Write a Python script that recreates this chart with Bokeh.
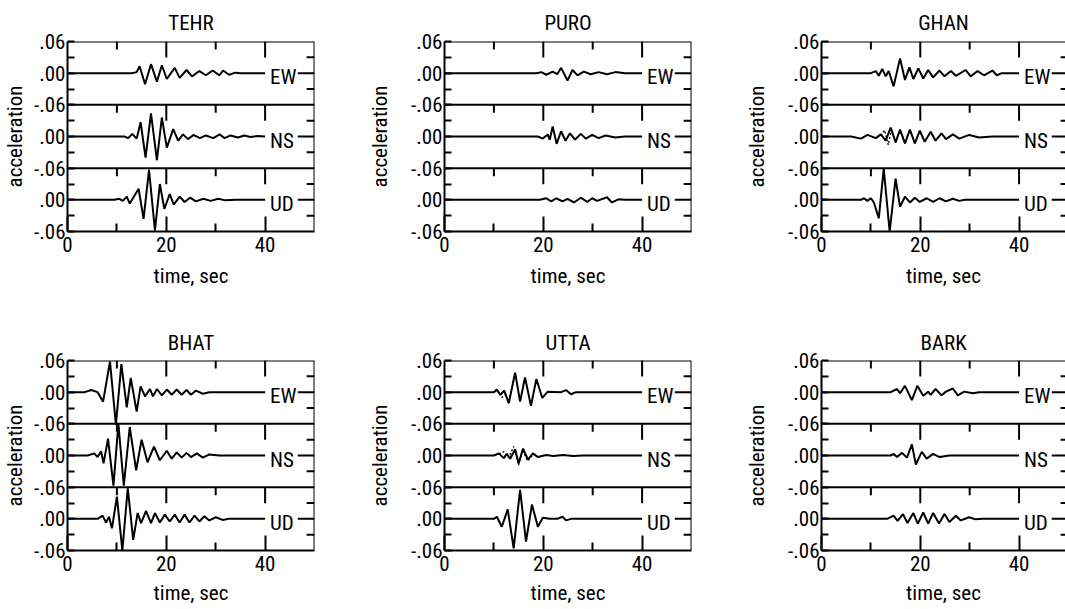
from bokeh.plotting import figure
from bokeh.layouts import column, row
from bokeh.models import Range1d, FixedTicker, Span
from bokeh.core.properties import value
from bokeh.embed import file_html
from bokeh.resources import INLINE

FONT = "'Roboto Condensed', 'DejaVu Sans Condensed', 'Liberation Sans Narrow', 'Liberation Sans', sans-serif"
FONT_SIZE = "21px"

STATIONS = ["TEHR", "PURO", "GHAN", "BHAT", "UTTA", "BARK"]
COMPONENTS = ["EW", "NS", "UD"]

# time axis (s) and tick values
X_TICKS = [0, 20, 40]
X_MINOR = [10, 30]
X_MAX = 50

# stacked acceleration axis: each component gets a +/-0.06 band
BAND_OFFSET = {"EW": 0.24, "NS": 0.12, "UD": 0.0}
Y_TICKS = [-0.06, 0.0, 0.06, 0.12, 0.18, 0.24, 0.30]
Y_TICK_LABELS = ["-.06", ".00", "-.06", ".00", "-.06", ".00", ".06"]
Y_MINOR = [-0.03, 0.03, 0.09, 0.15, 0.21, 0.27]
BAND_EDGES = [0.30, 0.18, 0.06]

# ---- recorded accelerograms: times (s) of turning points and amplitudes ----
TEHR_EW_T = [0, 13.0, 14.0, 14.6, 15.7, 16.9, 18.1, 19.1, 20.1, 21.7, 22.7, 24.1, 25.2, 26.7, 28.0, 29.4, 30.7, 31.5, 32.7, 34.0, 35.0, 40]
TEHR_EW_A = [0, 0, 0.002, 0.013, -0.021, 0.017, -0.016, 0.015, -0.011, 0.010, -0.009, 0.006, -0.006, 0.004, -0.004, 0.005, -0.004, 0.005, -0.003, 0.001, 0, 0]
TEHR_NS_T = [0, 11.5, 12.3, 13.1, 14.0, 14.8, 15.8, 16.9, 18.1, 19.1, 20.1, 21.4, 22.4, 23.4, 24.4, 25.5, 26.8, 28.0, 29.5, 30.8, 31.8, 33.0, 34.5, 35.8, 37.0, 38.5, 40]
TEHR_NS_A = [0, 0, -0.003, 0.005, -0.004, 0.027, -0.040, 0.044, -0.045, 0.036, -0.021, 0.014, -0.008, 0.004, -0.005, 0.003, -0.003, 0.002, -0.003, 0.004, -0.003, 0.002, -0.002, 0.002, -0.001, 0.001, 0]
TEHR_UD_T = [0, 9.5, 10.5, 11.2, 12.0, 12.6, 13.3, 14.4, 15.4, 16.5, 17.7, 18.7, 19.6, 20.7, 21.5, 22.7, 23.7, 24.8, 26.0, 27.5, 29.0, 30.5, 32.0, 34.0, 40]
TEHR_UD_A = [0, 0, 0.002, -0.002, 0.006, -0.007, 0.004, 0.021, -0.036, 0.057, -0.058, 0.030, -0.017, 0.011, -0.009, 0.006, -0.004, 0.004, -0.003, 0.002, -0.002, 0.002, -0.001, 0, 0]

PURO_EW_T = [0, 18.6, 19.6, 20.6, 21.9, 22.8, 23.6, 24.9, 25.9, 26.9, 28.2, 29.6, 31.2, 32.9, 34.6, 36.5, 40]
PURO_EW_A = [0, 0, 0.002, -0.003, 0.003, -0.002, 0.010, -0.014, 0.006, -0.004, 0.003, -0.002, 0.002, -0.002, 0.002, 0, 0]
PURO_NS_T = [0, 18.9, 19.9, 20.9, 21.3, 21.9, 22.7, 23.6, 24.5, 25.4, 26.4, 27.6, 28.6, 29.9, 31.2, 32.6, 34.6, 36.5, 40]
PURO_NS_A = [0, 0, -0.004, 0.004, -0.006, 0.019, -0.014, 0.010, -0.008, 0.006, -0.006, 0.005, -0.004, 0.003, -0.003, 0.002, -0.002, 0, 0]
PURO_UD_T = [0, 19.3, 20.6, 21.6, 22.6, 23.9, 24.9, 26.2, 27.6, 28.9, 29.9, 30.9, 32.9, 33.9, 35.2, 36.5, 40]
PURO_UD_A = [0, 0, 0.003, -0.003, 0.003, -0.003, 0.002, -0.005, 0.004, -0.004, 0.003, -0.002, 0.005, -0.005, 0.001, 0, 0]

GHAN_EW_T = [0, 10.0, 11.0, 11.6, 12.3, 13.0, 13.6, 14.6, 15.9, 16.9, 17.8, 18.6, 19.6, 20.6, 21.6, 22.6, 23.9, 24.9, 26.2, 27.2, 29.2, 30.2, 31.6, 32.9, 34.6, 35.5, 36.5, 40]
GHAN_EW_A = [0, 0, 0.004, -0.005, 0.008, -0.006, 0.004, -0.025, 0.028, -0.013, 0.011, -0.011, 0.009, -0.010, 0.006, -0.008, 0.005, -0.006, 0.004, -0.005, 0.006, -0.006, 0.004, -0.004, 0.005, -0.004, 0, 0]
GHAN_NS_T = [0, 6.0, 8.0, 9.3, 11.0, 12.0, 13.0, 14.0, 15.0, 15.9, 16.9, 17.9, 18.9, 19.9, 20.9, 22.1, 23.1, 24.3, 25.2, 26.6, 27.9, 29.9, 31.9, 34.6, 40]
GHAN_NS_A = [0, 0, -0.004, 0.003, -0.003, 0.004, -0.008, 0.017, -0.011, 0.013, -0.013, 0.013, -0.013, 0.011, -0.010, 0.009, -0.008, 0.006, -0.005, 0.004, -0.004, 0.003, -0.002, 0, 0]
GHAN_UD_T = [0, 8.0, 8.6, 9.3, 10.0, 10.6, 11.6, 12.6, 13.8, 15.0, 15.9, 16.9, 17.9, 18.9, 19.9, 21.3, 22.6, 23.9, 25.2, 26.6, 27.9, 29.0, 40]
GHAN_UD_A = [0, 0, 0.003, -0.002, 0.003, -0.005, -0.035, 0.059, -0.060, 0.040, -0.013, 0.006, -0.005, 0.004, -0.004, 0.003, -0.004, 0.003, -0.003, 0.002, -0.002, 0, 0]

BHAT_EW_T = [0, 3.5, 4.8, 6.1, 7.2, 8.6, 9.8, 10.9, 12.0, 12.8, 14.0, 14.8, 15.7, 16.7, 17.3, 18.1, 19.1, 20.1, 21.1, 22.1, 23.1, 24.1, 25.0, 26.0, 27.4, 28.7, 40]
BHAT_EW_A = [0, 0, 0.004, 0.0, -0.018, 0.058, -0.062, 0.053, -0.029, 0.027, -0.037, 0.011, -0.008, 0.006, -0.008, 0.006, -0.006, 0.005, -0.005, 0.005, -0.005, 0.004, -0.005, 0.003, -0.003, 0, 0]
BHAT_NS_T = [0, 4.1, 5.4, 6.1, 6.8, 7.3, 8.2, 9.3, 10.3, 11.4, 12.6, 13.9, 15.0, 16.2, 17.5, 18.7, 20.1, 21.1, 22.1, 23.1, 24.1, 25.0, 26.2, 27.4, 28.7, 30.7, 40]
BHAT_NS_A = [0, 0, 0.004, -0.003, 0.008, -0.015, 0.032, -0.057, 0.060, -0.057, 0.054, -0.028, 0.030, -0.013, 0.017, -0.009, 0.009, -0.006, 0.006, -0.004, 0.005, -0.003, 0.004, -0.004, 0.002, 0, 0]
BHAT_UD_T = [0, 6.1, 7.1, 7.8, 8.4, 9.0, 10.0, 11.1, 12.2, 13.3, 14.2, 14.9, 15.9, 16.9, 17.7, 18.7, 19.7, 20.7, 21.7, 22.7, 23.7, 24.7, 25.7, 26.7, 27.7, 28.7, 30.0, 31.4, 32.7, 40]
BHAT_UD_A = [0, 0, 0.006, -0.007, 0.004, -0.018, 0.042, -0.060, 0.058, -0.040, 0.011, -0.008, 0.015, -0.008, 0.011, -0.007, 0.008, -0.005, 0.008, -0.007, 0.008, -0.007, 0.006, -0.005, 0.005, -0.003, 0.003, -0.002, 0, 0]

UTTA_EW_T = [0, 10.0, 10.6, 11.3, 12.1, 13.0, 14.3, 15.3, 16.3, 17.5, 18.6, 19.8, 20.9, 23.6, 24.6, 25.6, 26.6, 40]
UTTA_EW_A = [0, 0, 0.005, -0.005, 0.003, -0.021, 0.037, -0.018, 0.028, -0.026, 0.025, -0.011, 0.001, 0.0, 0.004, -0.004, 0, 0]
UTTA_NS_T = [0, 10.0, 11.0, 12.0, 12.6, 13.3, 14.3, 15.0, 15.9, 16.9, 17.9, 18.9, 20.6, 22.0, 24.0, 26.0, 28.0, 40]
UTTA_NS_A = [0, 0, 0.004, -0.005, 0.003, -0.006, 0.012, -0.015, 0.013, -0.008, 0.004, -0.003, 0.001, -0.001, 0.001, -0.001, 0, 0]
UTTA_UD_T = [0, 10.0, 10.6, 11.6, 12.8, 14.0, 15.3, 16.5, 17.7, 18.9, 19.9, 21.3, 22.8, 23.9, 24.6, 25.6, 40]
UTTA_UD_A = [0, 0, 0.004, -0.015, 0.018, -0.056, 0.055, -0.043, 0.027, -0.015, 0.002, 0, 0, 0.004, -0.003, 0, 0]

BARK_EW_T = [0, 14.0, 15.3, 15.9, 16.9, 18.3, 19.4, 20.6, 21.6, 22.1, 23.1, 24.3, 25.2, 26.6, 27.6, 28.9, 30.6, 31.9, 40]
BARK_EW_A = [0, 0, 0.006, -0.002, 0.012, -0.015, 0.012, -0.007, 0.001, -0.005, 0.006, -0.006, 0.001, 0.007, -0.006, 0.001, -0.002, 0, 0]
BARK_NS_T = [0, 14.0, 14.6, 15.3, 16.3, 17.3, 18.3, 19.1, 20.3, 21.3, 22.6, 23.9, 25.9, 40]
BARK_NS_A = [0, 0, 0.003, -0.003, 0.005, -0.004, 0.021, -0.017, 0.007, -0.006, 0.003, -0.003, 0, 0]
BARK_UD_T = [0, 13.3, 14.6, 15.4, 16.5, 17.4, 18.6, 19.5, 20.6, 21.6, 22.6, 23.8, 24.9, 25.9, 27.2, 28.2, 29.9, 31.2, 32.6, 40]
BARK_UD_A = [0, 0, 0.006, -0.004, 0.009, -0.008, 0.011, -0.009, 0.012, -0.009, 0.011, -0.009, 0.009, -0.006, 0.006, -0.003, 0.003, -0.001, 0, 0]

# ---- synthetic traces (dotted) where they separate from the records ----
GHAN_NS_SYN_T = [12.0, 12.8, 13.5, 14.2, 15.0, 15.9, 16.9]
GHAN_NS_SYN_A = [0.002, 0.012, -0.016, 0.014, -0.012, 0.012, -0.012]
UTTA_NS_SYN_T = [11.0, 12.0, 13.0, 14.0, 15.0, 15.8, 16.8, 18.0]
UTTA_NS_SYN_A = [0.003, 0.007, -0.004, 0.017, -0.018, 0.010, -0.010, 0.002]
UTTA_EW_SYN_T = [10.6, 11.6, 12.4, 13.0, 14.3]
UTTA_EW_SYN_A = [0.003, -0.010, -0.004, -0.020, 0.035]

RECORDS = {
    ("TEHR", "EW"): (TEHR_EW_T, TEHR_EW_A), ("TEHR", "NS"): (TEHR_NS_T, TEHR_NS_A), ("TEHR", "UD"): (TEHR_UD_T, TEHR_UD_A),
    ("PURO", "EW"): (PURO_EW_T, PURO_EW_A), ("PURO", "NS"): (PURO_NS_T, PURO_NS_A), ("PURO", "UD"): (PURO_UD_T, PURO_UD_A),
    ("GHAN", "EW"): (GHAN_EW_T, GHAN_EW_A), ("GHAN", "NS"): (GHAN_NS_T, GHAN_NS_A), ("GHAN", "UD"): (GHAN_UD_T, GHAN_UD_A),
    ("BHAT", "EW"): (BHAT_EW_T, BHAT_EW_A), ("BHAT", "NS"): (BHAT_NS_T, BHAT_NS_A), ("BHAT", "UD"): (BHAT_UD_T, BHAT_UD_A),
    ("UTTA", "EW"): (UTTA_EW_T, UTTA_EW_A), ("UTTA", "NS"): (UTTA_NS_T, UTTA_NS_A), ("UTTA", "UD"): (UTTA_UD_T, UTTA_UD_A),
    ("BARK", "EW"): (BARK_EW_T, BARK_EW_A), ("BARK", "NS"): (BARK_NS_T, BARK_NS_A), ("BARK", "UD"): (BARK_UD_T, BARK_UD_A),
}
SYNTHETICS = {
    ("GHAN", "NS"): (GHAN_NS_SYN_T, GHAN_NS_SYN_A),
    ("UTTA", "NS"): (UTTA_NS_SYN_T, UTTA_NS_SYN_A),
    ("UTTA", "EW"): (UTTA_EW_SYN_T, UTTA_EW_SYN_A),
}

for key, (t, a) in list(RECORDS.items()) + list(SYNTHETICS.items()):
    assert len(t) == len(a), key

# ---- page geometry ----
FRAME_W = 251
FRAME_H = 190
SEC_PER_PX = X_MAX / FRAME_W
UNIT_PER_PX = (Y_TICKS[-1] - Y_TICKS[0]) / FRAME_H

COL_WIDTH = [365, 377, 323]
COL_LEFT = [63, 75, 75]
COL_RIGHT = [51, 51, 0]
ROW_HEIGHT = [300, 309]
ROW_TOP = [41, 60]
ROW_BOTTOM = [69, 59]
YLABEL_STANDOFF = [4, 16, 16]
XLABEL_STANDOFF = [9, 7]
TITLE_STANDOFF = [14, 12]
LABEL_X = 41.0


def style_axis(ax):
    ax.axis_line_width = 2
    ax.axis_line_color = "black"
    ax.major_tick_line_width = 2
    ax.minor_tick_line_width = 2
    ax.major_tick_line_color = "black"
    ax.minor_tick_line_color = "black"
    ax.major_tick_out = 0
    ax.minor_tick_out = 0
    ax.major_label_text_font = FONT
    ax.major_label_text_font_size = FONT_SIZE
    ax.major_label_text_color = "black"
    ax.axis_label_text_font = FONT
    ax.axis_label_text_font_size = FONT_SIZE
    ax.axis_label_text_font_style = "normal"
    ax.axis_label_text_color = "black"


def panel(station, c, r):
    frame_w = COL_WIDTH[c] - COL_LEFT[c] - COL_RIGHT[c]
    x_end = frame_w * SEC_PER_PX
    p = figure(
        width=COL_WIDTH[c], height=ROW_HEIGHT[r],
        x_range=Range1d(0, x_end), y_range=Range1d(Y_TICKS[0], Y_TICKS[-1]),
        min_border_left=COL_LEFT[c], min_border_right=COL_RIGHT[c],
        min_border_top=ROW_TOP[r], min_border_bottom=ROW_BOTTOM[r],
        output_backend="svg", toolbar_location=None, title=station,
    )
    p.outline_line_color = None
    p.background_fill_color = "white"
    p.border_fill_color = "white"
    p.xgrid.visible = False
    p.ygrid.visible = False

    p.title.align = "center"
    p.title.text_font = FONT
    p.title.text_font_size = FONT_SIZE
    p.title.text_font_style = "normal"
    p.title.text_color = "black"
    p.title.standoff = TITLE_STANDOFF[r]

    xa = p.xaxis[0]
    style_axis(xa)
    xa.ticker = FixedTicker(ticks=X_TICKS, minor_ticks=X_MINOR)
    xa.major_tick_in = 15
    xa.minor_tick_in = 8
    xa.major_label_standoff = 5
    xa.axis_label = "time, sec"
    xa.axis_label_standoff = XLABEL_STANDOFF[r]

    ya = p.yaxis[0]
    style_axis(ya)
    ya.ticker = FixedTicker(ticks=Y_TICKS, minor_ticks=Y_MINOR)
    ya.major_label_overrides = dict(zip(Y_TICKS, Y_TICK_LABELS))
    ya.major_tick_in = 7
    ya.minor_tick_in = 7
    ya.major_label_standoff = 2
    ya.axis_label = "acceleration"
    ya.axis_label_standoff = YLABEL_STANDOFF[c]

    # band borders and right edge
    for yb in BAND_EDGES:
        p.add_layout(Span(location=yb, dimension="width", line_color="black", line_width=2))
    p.add_layout(Span(location=X_MAX, dimension="height", line_color="black", line_width=2))

    # time ticks hanging from the top of each band
    tick_x = X_TICKS[1:] + X_MINOR
    tick_len = [16] * (len(X_TICKS) - 1) + [8] * len(X_MINOR)
    x0, y0, x1, y1 = [], [], [], []
    for yb in BAND_EDGES:
        for tx, tl in zip(tick_x, tick_len):
            x0.append(tx); x1.append(tx)
            y0.append(yb); y1.append(yb - tl * UNIT_PER_PX)
    # acceleration ticks along the right edge of each band
    for comp in COMPONENTS:
        off = BAND_OFFSET[comp]
        for dy, tl in [(0.0, 17), (0.03, 8), (-0.03, 8)]:
            x0.append(X_MAX - tl * SEC_PER_PX); x1.append(X_MAX)
            y0.append(off + dy); y1.append(off + dy)
    p.segment(x0=x0, y0=y0, x1=x1, y1=y1, line_color="black", line_width=2)

    for comp in COMPONENTS:
        off = BAND_OFFSET[comp]
        t, a = RECORDS[(station, comp)]
        p.line(t, [v + off for v in a], line_color="black", line_width=2.0)
        if (station, comp) in SYNTHETICS:
            ts, as_ = SYNTHETICS[(station, comp)]
            p.line(ts, [v + off for v in as_], line_color="black", line_width=1.3, line_dash="2 2")

    p.text(x=[LABEL_X] * 3, y=[BAND_OFFSET[c_] for c_ in COMPONENTS], text=COMPONENTS,
           text_font=value(FONT), text_font_size=FONT_SIZE, text_color="black",
           text_align="left", text_baseline="middle", y_offset=4)
    return p


panels = [panel(s, i % 3, i // 3) for i, s in enumerate(STATIONS)]
layout = column(row(*panels[:3]), row(*panels[3:]))

open("out.html", "w").write(file_html(layout, INLINE))
